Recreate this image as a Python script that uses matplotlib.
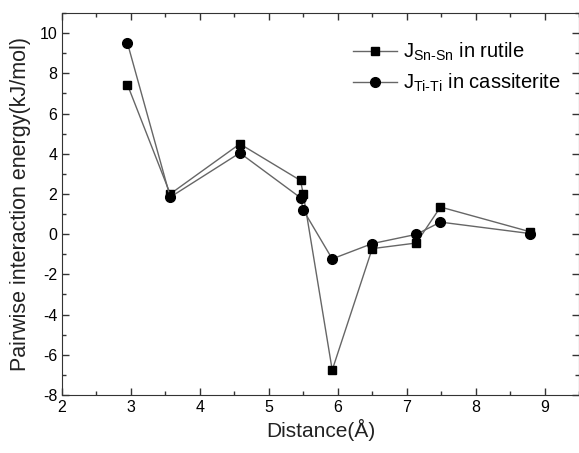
import matplotlib
matplotlib.use('Agg')
import matplotlib.pyplot as plt
from matplotlib.ticker import MultipleLocator

plt.rcParams['font.family'] = ['Liberation Sans', 'DejaVu Sans']
plt.rcParams['mathtext.fontset'] = 'custom'
plt.rcParams['mathtext.rm'] = 'Liberation Sans'
plt.rcParams['axes.unicode_minus'] = False

# data
dist = [2.95, 3.57, 4.58, 5.46, 5.50, 5.92, 6.50, 7.14, 7.49, 8.79]
j_snsn_rutile = [7.43, 2.0, 4.49, 2.67, 1.99, -6.76, -0.72, -0.44, 1.35, 0.12]
j_titi_cass = [9.50, 1.84, 4.04, 1.81, 1.20, -1.23, -0.47, -0.01, 0.60, 0.03]

fig = plt.figure(figsize=(5.79, 4.53), dpi=100)
ax = fig.add_axes([62 / 579, 58 / 453, 1 - 62 / 579, (395 - 13) / 453])

ax.plot(dist, j_snsn_rutile, color='#666666', lw=1.0, marker='s', ms=6.3,
        mfc='black', mec='black', label=r'J$_{\text{Sn-Sn}}$ in rutile')
ax.plot(dist, j_titi_cass, color='#666666', lw=1.0, marker='o', ms=7,
        mfc='black', mec='black', label=r'J$_{\text{Ti-Ti}}$ in cassiterite')

ax.set_xlim(2, 9.5)
ax.set_ylim(-8, 11)
ax.xaxis.set_major_locator(MultipleLocator(1))
ax.xaxis.set_minor_locator(MultipleLocator(0.5))
ax.yaxis.set_major_locator(MultipleLocator(2))
ax.yaxis.set_minor_locator(MultipleLocator(1))
ax.tick_params(which='both', direction='in', top=True, right=True,
               labelsize=11.5, color='#333333')
ax.tick_params(which='major', length=5, width=1)
ax.tick_params(which='minor', length=3, width=1)
for s in ax.spines.values():
    s.set_color('#333333')

ax.set_xlabel('Distance(Å)', fontsize=15, color='#222222', labelpad=3)
ax.set_ylabel('Pairwise interaction energy(kJ/mol)', fontsize=15.5, color='#222222',
              labelpad=6)

leg = ax.legend(loc='upper right', bbox_to_anchor=(1.0, 0.975), frameon=False,
                fontsize=14.5, handlelength=2.2, handletextpad=0.3, labelspacing=0.45)

fig.savefig('out.png', dpi=100)
